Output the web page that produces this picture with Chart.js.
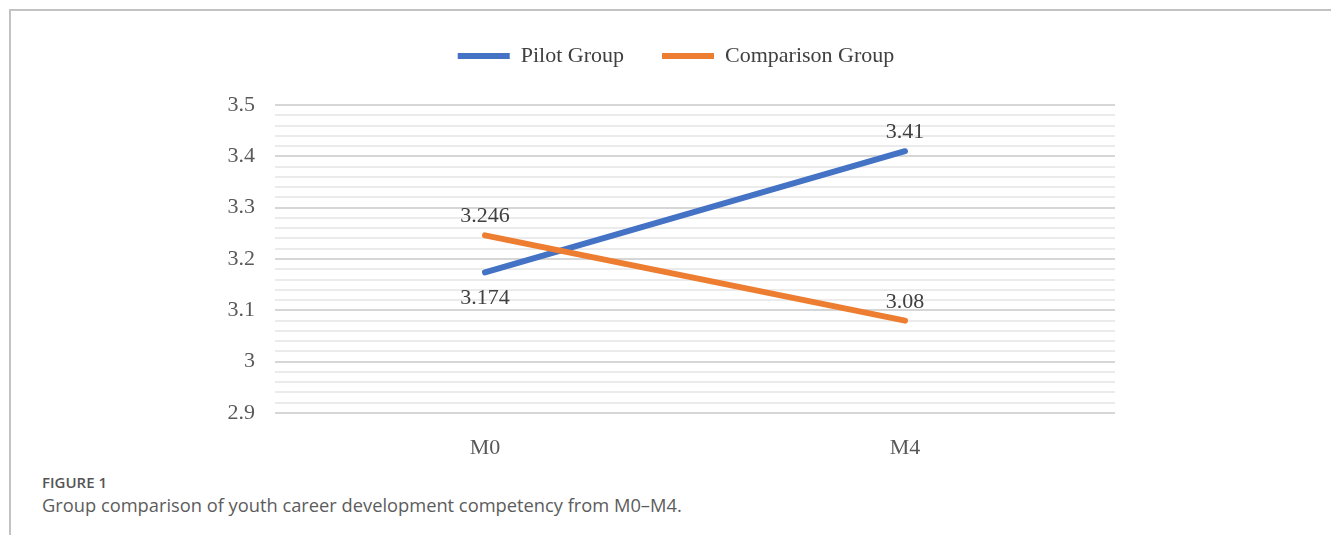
<!DOCTYPE html>
<html>
<head>
<meta charset="utf-8">
<script src="https://cdn.jsdelivr.net/npm/chart.js@4/dist/chart.umd.min.js"></script>
<style>
  html, body { margin: 0; padding: 0; background: #fff; }
  body { width: 1331px; height: 535px; position: relative; overflow: hidden; }
  .frame { position: absolute; left: 9px; top: 9px; right: 0; bottom: 0;
           border-top: 2px solid #c2c2c2; border-left: 2px solid #c2c2c2; }
  .wrap { position: absolute; left: 0; top: 0; width: 1331px; height: 470px; }
  .fig { position: absolute; left: 42px; top: 472px; font-family: "Open Sans", sans-serif;
         font-size: 15px; font-weight: 600; color: #555; }
  .cap { position: absolute; left: 42px; top: 492px; font-family: "Open Sans", sans-serif;
         font-size: 18.3px; color: #5c5c5c; }
</style>
</head>
<body>
<div class="frame"></div>
<div class="wrap"><canvas id="c" width="1331" height="470"></canvas></div>
<div class="fig">FIGURE 1</div>
<div class="cap">Group comparison of youth career development competency from M0–M4.</div>
<script>
// Survey waves and mean competency scores
const categories = ["M0", "M4"];
const pilotGroup = [3.174, 3.41];
const comparisonGroup = [3.246, 3.08];
const yMin = 2.9, yMax = 3.5, minorStep = 0.02;

const serif = "'Liberation Serif', 'Times New Roman', serif";

const isMajor = v => Math.abs(v * 10 - Math.round(v * 10)) < 1e-6;

// Value labels drawn next to each line end
const valueLabels = {
  id: 'valueLabels',
  afterDatasetsDraw(chart) {
    const ctx = chart.ctx;
    ctx.save();
    ctx.font = "22px " + serif;
    ctx.fillStyle = "#404040";
    ctx.textAlign = "center";
    ctx.textBaseline = "alphabetic";
    chart.data.datasets.forEach((ds, i) => {
      const meta = chart.getDatasetMeta(i);
      meta.data.forEach((pt, j) => {
        const pos = ds.labelPos[j];
        const y = pos === 'below' ? pt.y + 32 : pt.y - 13;
        ctx.fillText(String(ds.data[j]), pt.x, y);
      });
    });
    ctx.restore();
  }
};

// Extra room between the legend row and the plot
const legendSpace = {
  id: 'legendSpace',
  beforeUpdate(chart) {
    const lg = chart.legend;
    if (lg && !lg._spaced) {
      const fit = lg.fit;
      lg.fit = function () { fit.call(this); this.height = 98; };
      lg._spaced = true;
    }
  }
};

new Chart(document.getElementById('c'), {
  type: 'line',
  data: {
    labels: categories,
    datasets: [
      { label: 'Pilot Group', data: pilotGroup, borderColor: '#4472C4', backgroundColor: '#4472C4',
        borderWidth: 6, borderCapStyle: 'round', pointRadius: 0, tension: 0, order: 1,
        labelPos: ['below', 'above'] },
      { label: 'Comparison Group', data: comparisonGroup, borderColor: '#ED7D31', backgroundColor: '#ED7D31',
        borderWidth: 6, borderCapStyle: 'round', pointRadius: 0, tension: 0, order: 0,
        labelPos: ['above', 'above'] }
    ]
  },
  options: {
    responsive: false,
    animation: false,
    layout: { padding: { left: 21, top: 7, right: 0, bottom: 0 } },
    plugins: {
      tooltip: { enabled: false },
      legend: {
        position: 'top',
        labels: {
          sort: (a, b) => a.datasetIndex - b.datasetIndex,
          usePointStyle: true, pointStyle: 'line', pointStyleWidth: 52,
          padding: 38, color: '#404040',
          font: { family: serif, size: 22 }
        }
      }
    },
    scales: {
      x: {
        offset: true,
        grid: { display: false },
        border: { display: false },
        ticks: { color: '#595959', font: { family: serif, size: 22 }, padding: 14 },
        afterFit(s) { s.height = 57; }
      },
      y: {
        min: yMin, max: yMax,
        border: { display: false },
        grid: {
          drawTicks: false,
          lineWidth: 2,
          color: c => isMajor(c.tick.value) ? '#d6d6d6' : '#ebebeb'
        },
        ticks: {
          stepSize: minorStep, autoSkip: false, padding: 20,
          color: '#595959', font: { family: serif, size: 22 },
          callback: v => isMajor(v) ? String(Math.round(v * 10) / 10) : ''
        },
        afterFit(s) { s.width = 254; }
      },
      y2: {
        position: 'right',
        grid: { display: false },
        border: { display: false },
        ticks: { display: false },
        afterFit(s) { s.width = 216; }
      }
    }
  },
  plugins: [valueLabels, legendSpace]
});
</script>
</body>
</html>
